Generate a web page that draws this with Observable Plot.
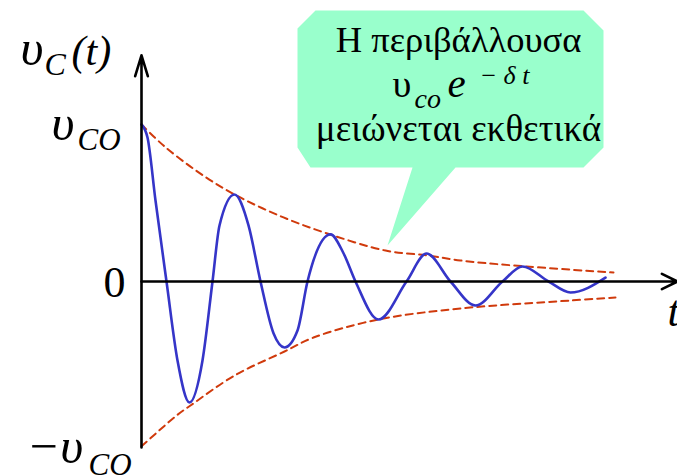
<!DOCTYPE html>
<html><head><meta charset="utf-8">
<script src="https://cdn.jsdelivr.net/npm/d3@7"></script>
<script src="https://cdn.jsdelivr.net/npm/@observablehq/plot@0.6"></script>
<style>body{margin:0;background:#fff}</style>
</head><body><div id="chart"></div><script>
// Damped oscillation υC(t) (units of υCO)
const curveT = [0,0.06,0.14,0.25,0.36,0.48,0.61,0.71,0.78,0.93,1.07,1.19,1.32,1.43,1.56,1.66,1.89,2.02,2.14,2.37,2.65,2.85,3.09,3.34,3.61,3.81,4.07,4.29,4.64];
const curveV = [1.0,0.917,0.516,0,-0.503,-0.771,-0.503,0,0.357,0.554,0.357,0,-0.33,-0.42,-0.312,0,0.30,0.18,0,-0.242,0,0.178,0,-0.153,0,0.096,0,-0.07,0.025];
// Upper envelope υCO e^{-δt}
const topT = [0,0.22,0.56,0.93,1.42,1.89,2.44,2.86,3.19,3.72,4.72];
const topV = [1.0,0.866,0.70,0.554,0.408,0.299,0.197,0.166,0.134,0.102,0.057];
// Lower envelope −υCO e^{-δt}
const botT = [0,0.35,0.49,0.93,1.43,1.72,2.37,3.19,4.29,4.74];
const botV = [-1.05,-0.854,-0.79,-0.599,-0.446,-0.357,-0.242,-0.172,-0.121,-0.102];
// Axis extents
const axisYFrom = -1.057, axisYTo = 1.44;
const axisXFrom = 0, axisXTo = 5.36;
// Tick labels
const yTicks = [1, 0, -1.05];
const yTickText = ["υ", "0", "−υ"];
const yTickSub = ["CO", "", "CO"];
const yTitle = ["υ", "C", "(t)"];
const xTitle = "t";
// Callout
const calloutLines = ["Η περιβάλλουσα", "μειώνεται εκθετικά"];
const calloutFormula = ["υ", "co", "e", "− δ t"];
const bubbleT = [1.74,4.42,4.62,4.62,4.42,3.14,2.46,2.71,1.69,1.56,1.56];
const bubbleV = [1.726,1.726,1.599,0.854,0.726,0.726,0.229,0.726,0.726,0.854,1.611];

const zip = (a, b) => a.map((t, i) => ({t, v: b[i]}));
const curve = zip(curveT, curveV);
const upper = zip(topT, topV);
const lower = zip(botT, botV);
const bubble = zip(bubbleT, bubbleV);

const serif = "Liberation Serif";
const txt = (s, x, y, o) => Plot.text([s], {x, y, text: d => d, lineAnchor: "bottom", textAnchor: "start", fontFamily: serif, fill: "black", ...o});

const red = "#d03a0c", blue = "#3535c8";

const chart = Plot.plot({
  width: 677, height: 475,
  marginLeft: 141, marginRight: 0, marginTop: 0, marginBottom: 0,
  x: {domain: [0, 5.36], axis: null},
  y: {domain: [-1.2357, 1.7898], axis: null},
  style: {background: "white"},
  marks: [
    Plot.line(bubble, {x: "t", y: "v", curve: "linear-closed", fill: "#99ffcc", stroke: "none"}),
    Plot.line(upper, {x: "t", y: "v", curve: "catmull-rom", stroke: red, strokeWidth: 2, strokeDasharray: "7,5"}),
    Plot.line(lower, {x: "t", y: "v", curve: "catmull-rom", stroke: red, strokeWidth: 2, strokeDasharray: "7,5"}),
    Plot.line(curve, {x: "t", y: "v", curve: "monotone-x", stroke: blue, strokeWidth: 2.6}),
    Plot.arrow([0], {x1: 0, y1: axisYFrom, x2: 0, y2: axisYTo, stroke: "black", strokeWidth: 2.6, headLength: 12.5, headAngle: 34}),
    Plot.arrow([0], {x1: axisXFrom, y1: 0, x2: axisXTo, y2: 0, stroke: "black", strokeWidth: 2.6, headLength: 10, headAngle: 52}),
    // y tick labels
    txt(yTickText[0], 0, yTicks[0], {dx: -90, dy: 16, fontSize: 50, fontStyle: "italic"}),
    txt(yTickSub[0], 0, yTicks[0], {dx: -64, dy: 26, fontSize: 31, fontStyle: "italic", letterSpacing: "-1px"}),
    txt(yTickText[1], 0, yTicks[1], {dx: -16, dy: 16, fontSize: 44, textAnchor: "end"}),
    txt(yTickText[2], 0, yTicks[2], {dx: -115, dy: 17, fontSize: 50, fontStyle: "italic"}),
    txt(yTickSub[2], 0, yTicks[2], {dx: -53, dy: 29, fontSize: 31, fontStyle: "italic", letterSpacing: "-1px"}),
    // axis titles
    txt(yTitle[0], 0, axisYTo, {dx: -121, dy: 10, fontSize: 50, fontStyle: "italic"}),
    txt(yTitle[1], 0, axisYTo, {dx: -97, dy: 20, fontSize: 32, fontStyle: "italic"}),
    txt(yTitle[2], 0, axisYTo, {dx: -70, dy: 10, fontSize: 42, fontStyle: "italic", letterSpacing: "2px"}),
    txt(xTitle, axisXTo, 0, {dx: -10, dy: 45, fontSize: 44, fontStyle: "italic"}),
    // callout text
    txt(calloutLines[0], 3.17, 1.4586, {fontSize: 36.5, textAnchor: "middle"}),
    txt(calloutLines[1], 3.17, 0.898, {fontSize: 37, textAnchor: "middle"}),
    txt(calloutFormula[0], 2.51, 1.172, {fontSize: 38}),
    txt(calloutFormula[1], 2.73, 1.108, {fontSize: 28, fontStyle: "italic"}),
    txt(calloutFormula[2], 3.06, 1.172, {fontSize: 41, fontStyle: "italic"}),
    txt(calloutFormula[3], 3.38, 1.261, {fontSize: 26, fontStyle: "italic"})
  ]
});
document.getElementById("chart").append(chart);
</script></body></html>
